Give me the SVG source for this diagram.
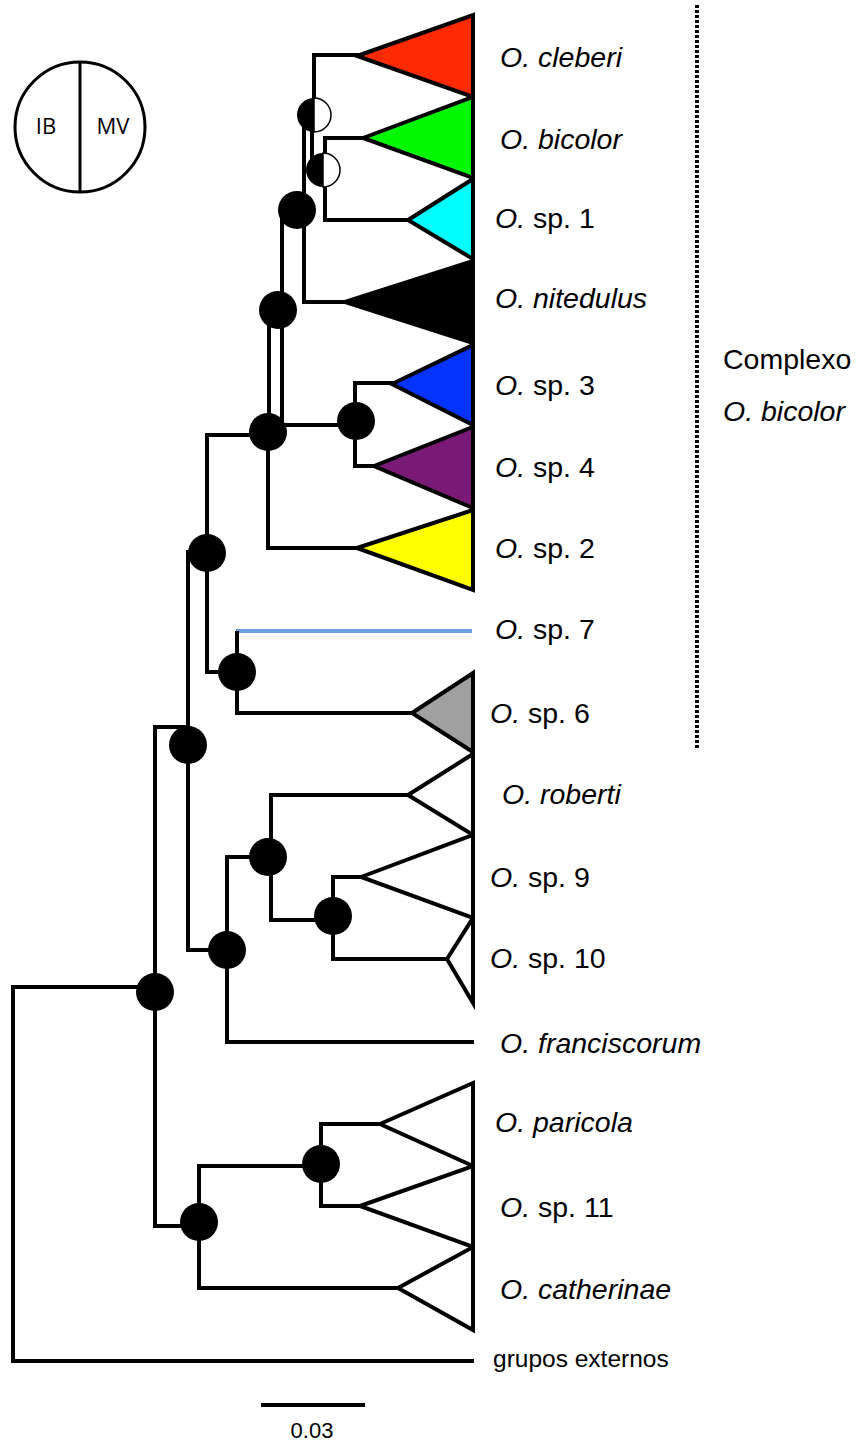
<svg xmlns="http://www.w3.org/2000/svg" width="857" height="1443" viewBox="0 0 857 1443">
<style>
.br{fill:none;stroke:#000;stroke-width:4;stroke-linecap:square;stroke-linejoin:miter}
.tri{stroke:#000;stroke-width:4;stroke-linejoin:miter}
.dot{fill:#000}
.lbl{font-family:"Liberation Sans",Arial,sans-serif;font-size:28.5px;fill:#000}
.it{font-style:italic}
.leg{font-family:"Open Sans","Liberation Sans",sans-serif;font-size:22px;fill:#000;text-anchor:middle}
</style>
<rect width="857" height="1443" fill="#fff"/>
<g id="legend">
<circle cx="80" cy="127" r="65" fill="#fff" stroke="#000" stroke-width="3"/>
<line x1="80" y1="62" x2="80" y2="192" stroke="#000" stroke-width="3"/>
<text class="leg" x="46" y="134">IB</text>
<text class="leg" x="113" y="134">MV</text>
</g>
<g id="connectors">
<path class="br" d="M314,55 H357 M314,55 V115"/>
<path class="br" d="M304,115 V302 H345"/>
<path class="br" d="M312,115 V170"/>
<path class="br" d="M363,138 H325 V220 H408"/>
<path class="br" d="M282,210 V432"/>
<path class="br" d="M269,310 V432"/>
<path class="br" d="M268,425 H356"/>
<path class="br" d="M268,432 V548 H357"/>
<path class="br" d="M392,383 H355 V466 H374"/>
<path class="br" d="M207,435 H268 M207,435 V672 H237"/>
<path class="br" d="M188,552 H207"/>
<path fill="none" stroke="#6a9edc" stroke-width="4" d="M236,631 H472"/>
<path class="br" d="M237,633 V713 H412"/>
<path class="br" d="M188,552 V950 H227"/>
<path class="br" d="M155,727 H188"/>
<path class="br" d="M268,857 H227 V1042 H472"/>
<path class="br" d="M408,795 H271 V920 H333"/>
<path class="br" d="M361,877 H333 V959 H447"/>
<path class="br" d="M155,727 V1226 H199"/>
<path class="br" d="M13,987 H155"/>
<path class="br" d="M13,987 V1361 H472"/>
<path class="br" d="M321,1166 H199 V1288 H398"/>
<path class="br" d="M380,1124 H321 V1206 H360"/>
</g>
<g id="n-half1">
<path d="M314,98 A17,17 0 0 0 314,132 Z" fill="#000"/>
<path d="M314,98 A17,17 0 0 1 314,132 Z" fill="#fff" stroke="#000" stroke-width="1.5"/>
</g>
<g id="n-half2">
<path d="M323,153 A17,17 0 0 0 323,187 Z" fill="#000"/>
<path d="M323,153 A17,17 0 0 1 323,187 Z" fill="#fff" stroke="#000" stroke-width="1.5"/>
</g>
<g id="n-c3"><circle class="dot" cx="297" cy="210" r="19"/></g>
<g id="n-c4"><circle class="dot" cx="278" cy="310" r="19"/></g>
<g id="n-c5"><circle class="dot" cx="268" cy="432" r="19"/></g>
<g id="n-c6"><circle class="dot" cx="356" cy="421" r="19"/></g>
<g id="n-c7"><circle class="dot" cx="207" cy="553" r="19"/></g>
<g id="n-c8"><circle class="dot" cx="237" cy="672" r="19"/></g>
<g id="n-c9"><circle class="dot" cx="188" cy="745" r="19"/></g>
<g id="n-c10"><circle class="dot" cx="227" cy="950" r="19"/></g>
<g id="n-c11"><circle class="dot" cx="268" cy="857" r="19"/></g>
<g id="n-c12"><circle class="dot" cx="333" cy="916" r="19"/></g>
<g id="n-root"><circle class="dot" cx="155" cy="992" r="19"/></g>
<g id="n-c13"><circle class="dot" cx="199" cy="1222" r="19"/></g>
<g id="n-c14"><circle class="dot" cx="321" cy="1164" r="19"/></g>
<g id="t-cleberi"><polygon class="tri" fill="#ff2a00" points="357,56 473,15 473,97"/><text class="lbl it" x="500" y="67">O. cleberi</text></g>
<g id="t-bicolor"><polygon class="tri" fill="#00f900" points="363,138 473,97 473,178"/><text class="lbl it" x="500" y="149">O. bicolor</text></g>
<g id="t-sp1"><polygon class="tri" fill="#00ffff" points="408,220 473,179 473,259"/><text class="lbl" x="495" y="228"><tspan class="it">O.</tspan> sp. 1</text></g>
<g id="t-nitedulus"><polygon class="tri" fill="#000" points="345,302 473,261 473,343"/><text class="lbl it" x="495" y="308">O. nitedulus</text></g>
<g id="t-sp3"><polygon class="tri" fill="#0433ff" points="392,384 473,345 473,425"/><text class="lbl" x="495" y="395"><tspan class="it">O.</tspan> sp. 3</text></g>
<g id="t-sp4"><polygon class="tri" fill="#7a1a77" points="374,466 473,427 473,508"/><text class="lbl" x="495" y="477"><tspan class="it">O.</tspan> sp. 4</text></g>
<g id="t-sp2"><polygon class="tri" fill="#ffff00" points="357,548 473,510 473,590"/><text class="lbl" x="495" y="558"><tspan class="it">O.</tspan> sp. 2</text></g>
<g id="t-sp7"><text class="lbl" x="495" y="639"><tspan class="it">O.</tspan> sp. 7</text></g>
<g id="t-sp6"><polygon class="tri" fill="#a0a0a0" points="412,713 473,673 473,752"/><text class="lbl" x="490" y="723"><tspan class="it">O.</tspan> sp. 6</text></g>
<g id="t-roberti"><polygon class="tri" fill="#fff" points="408,795 473,754 473,835"/><text class="lbl it" x="502" y="804">O. roberti</text></g>
<g id="t-sp9"><polygon class="tri" fill="#fff" points="361,877 473,835 473,918"/><text class="lbl" x="490" y="887"><tspan class="it">O.</tspan> sp. 9</text></g>
<g id="t-sp10"><polygon class="tri" fill="#fff" points="447,959 473,918 473,1003"/><text class="lbl" x="490" y="968"><tspan class="it">O.</tspan> sp. 10</text></g>
<g id="t-franciscorum"><text class="lbl it" x="500" y="1053">O. franciscorum</text></g>
<g id="t-paricola"><polygon class="tri" fill="#fff" points="380,1124 473,1083 473,1166"/><text class="lbl it" x="495" y="1132">O. paricola</text></g>
<g id="t-sp11"><polygon class="tri" fill="#fff" points="360,1206 473,1166 473,1247"/><text class="lbl" x="500" y="1217"><tspan class="it">O.</tspan> sp. 11</text></g>
<g id="t-catherinae"><polygon class="tri" fill="#fff" points="398,1288 473,1247 473,1330"/><text class="lbl it" x="500" y="1299">O. catherinae</text></g>
<g id="t-outgroup"><text class="lbl" x="493" y="1367" style="font-size:24.5px">grupos externos</text></g>
<g id="complex">
<line x1="697" y1="5" x2="697" y2="750" stroke="#000" stroke-width="4" stroke-dasharray="3 2"/>
<text class="lbl" x="723" y="369">Complexo</text>
<text class="lbl it" x="723" y="421">O. bicolor</text>
</g>
<g id="scale">
<line x1="261" y1="1405" x2="365" y2="1405" stroke="#000" stroke-width="4"/>
<text class="lbl" x="312" y="1438" text-anchor="middle" style="font-size:22px">0.03</text>
</g>
</svg>
